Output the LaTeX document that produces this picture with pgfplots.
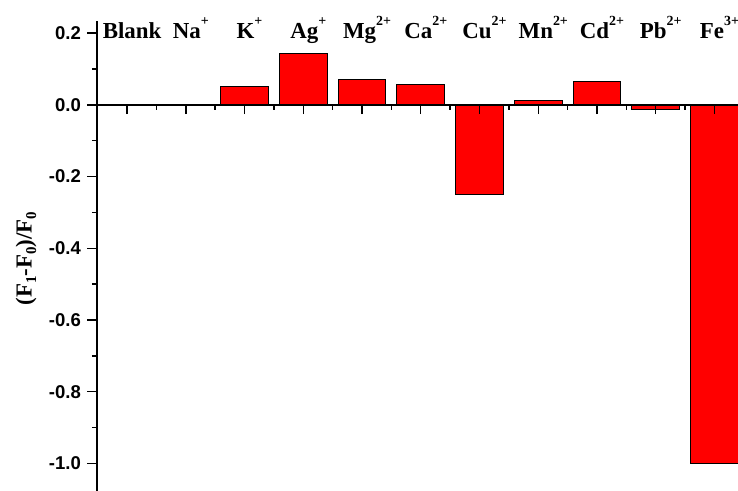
\documentclass[border=0pt]{standalone}
\usepackage{pgfplots}
\pgfplotsset{compat=1.18}
\usepackage{fontspec}
\setmainfont{Liberation Serif}
\newfontfamily\arialf{Liberation Sans}
\newcommand{\ionch}[1]{\raisebox{12.5bp}{\fontsize{14}{14}\selectfont #1}}
\newcommand{\sbs}[1]{\raisebox{-4.5bp}{\fontsize{15}{15}\selectfont #1}}
\begin{document}
\begin{tikzpicture}
\begin{axis}[
  at={(96.7bp,0bp)}, anchor=south west,
  scale only axis, width=641.3bp, height=470bp,
  xmin=-0.517, xmax=10.40, ymin=-1.077, ymax=0.234,
  axis x line*=middle, axis y line*=left,
  axis line style={line width=1.8bp, black},
  axis on top, clip=false,
  xtick={0,1,2,3,4,5,6,7,8,9,10},
  minor xtick={0.5,1.5,2.5,3.5,4.5,5.5,6.5,7.5,8.5,9.5},
  xticklabels={},
  ytick={-1,-0.8,-0.6,-0.4,-0.2,0,0.2},
  minor ytick={-1.1,-0.9,-0.7,-0.5,-0.3,-0.1,0.1},
  tick align=outside,
  major tick length=9.3bp, minor tick length=4.8bp,
  tick style={line width=1.4bp, black},
  /pgf/number format/assume math mode=true,
  yticklabel style={font=\arialf\bfseries\fontsize{18.6}{18.6}\selectfont, xshift=-3bp,
    /pgf/number format/.cd, fixed, fixed zerofill, precision=1},
]
\addplot[ybar, bar width=0.81, fill=red, draw=black, line width=1bp] coordinates {
  (0,0) (1,-0.003) (2,0.050) (3,0.144) (4,0.070) (5,0.058)
  (6,-0.249) (7,0.012) (8,0.065) (9,-0.014) (10,-1.0)
};
\begin{scope}[every node/.style={anchor=base, xshift=5bp, inner sep=0pt,
    font=\bfseries\fontsize{23}{23}\selectfont}]
\node at (axis cs:0,0.186) {Blank};
\node at (axis cs:1,0.186) {Na\ionch{+}};
\node at (axis cs:2,0.186) {K\ionch{+}};
\node at (axis cs:3,0.186) {Ag\ionch{+}};
\node at (axis cs:4,0.186) {Mg\ionch{2+}};
\node at (axis cs:5,0.186) {Ca\ionch{2+}};
\node at (axis cs:6,0.186) {Cu\ionch{2+}};
\node at (axis cs:7,0.186) {Mn\ionch{2+}};
\node at (axis cs:8,0.186) {Cd\ionch{2+}};
\node at (axis cs:9,0.186) {Pb\ionch{2+}};
\node at (axis cs:10,0.186) {Fe\ionch{3+}};
\end{scope}
\end{axis}
\node[rotate=90, anchor=base, inner sep=0pt, font=\bfseries\fontsize{23}{23}\selectfont]
  at (31.7bp,232.5bp) {(F\sbs{1}-F\sbs{0})/F\sbs{0}};
\pgfresetboundingbox
\path[use as bounding box] (0,0) rectangle (738bp,491bp);
\end{tikzpicture}
\end{document}
